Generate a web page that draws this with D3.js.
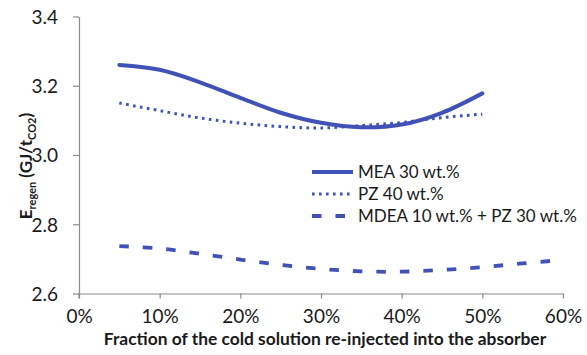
<!DOCTYPE html>
<html>
<head>
<meta charset="utf-8">
<script src="https://cdn.jsdelivr.net/npm/d3@7"></script>
<style>
  html, body { margin: 0; padding: 0; background: #fff; }
  svg text { font-family: Lato, "Open Sans", sans-serif; fill: #1a1a1a; }
</style>
</head>
<body>
<svg id="chart" width="587" height="355"></svg>
<script>
// Fraction of cold solution re-injected (%)
const fractionMEA = [5, 10, 15, 20, 25, 30, 35, 40, 45, 50];
const valuesMEA   = [3.26, 3.246, 3.21, 3.165, 3.122, 3.093, 3.08, 3.088, 3.122, 3.178];

const fractionPZ = [5, 10, 15, 20, 25, 30, 35, 40, 45, 50];
const valuesPZ   = [3.15, 3.128, 3.107, 3.092, 3.082, 3.078, 3.085, 3.094, 3.108, 3.118];

const fractionMDEA = [5, 10, 15, 20, 25, 30, 35, 40, 45, 50, 55, 60];
const valuesMDEA   = [2.737, 2.73, 2.715, 2.698, 2.683, 2.671, 2.664, 2.663, 2.668, 2.676, 2.687, 2.697];

const seriesNames = ["MEA 30 wt.%", "PZ 40 wt.%", "MDEA 10 wt.% + PZ 30 wt.%"];

const xTicks = [0, 10, 20, 30, 40, 50, 60];
const yTicks = [2.6, 2.8, 3.0, 3.2, 3.4];

const color = "#4152b6";
const svg = d3.select("#chart");

const x = d3.scaleLinear().domain([0, 60]).range([79, 563]);
const y = d3.scaleLinear().domain([2.6, 3.4]).range([293.5, 16.5]);

// Axes
const xAxis = d3.axisBottom(x).tickValues(xTicks).tickSize(5).tickSizeOuter(0)
  .tickFormat(d => d + "%");
const yAxis = d3.axisLeft(y).tickValues(yTicks).tickSize(6).tickSizeOuter(0)
  .tickFormat(d3.format(".1f"));

const gx = svg.append("g").attr("transform", `translate(0,${y(2.6)})`).call(xAxis);
const gy = svg.append("g").attr("transform", `translate(${x(0)},0)`).call(yAxis);

[gx, gy].forEach(g => {
  g.select(".domain").attr("stroke", "#8c8c8c").attr("stroke-width", 1.2);
  g.selectAll(".tick line").attr("stroke", "#8c8c8c").attr("stroke-width", 1.2);
  g.selectAll(".tick text").attr("font-size", 19).attr("fill", "#1a1a1a")
    .style("font-family", "Lato, 'Open Sans', sans-serif");
});
gx.selectAll(".tick text").attr("dy", 0).attr("y", 29);
gy.selectAll(".tick text").attr("x", -21).attr("dy", "0.36em");
// extend the vertical axis a little below the horizontal one
gy.append("line").attr("x1", 0).attr("x2", 0).attr("y1", y(2.6)).attr("y2", y(2.6) + 5)
  .attr("stroke", "#8c8c8c").attr("stroke-width", 1.2);

// Axis titles
svg.append("text")
  .attr("x", 325).attr("y", 345)
  .attr("text-anchor", "middle").attr("font-weight", "bold").attr("font-size", 17.4)
  .text("Fraction of the cold solution re-injected into the absorber");

const yTitle = svg.append("text")
  .attr("transform", "translate(32,166) rotate(-90)")
  .attr("text-anchor", "middle").attr("font-weight", "bold").attr("font-size", 17);
yTitle.append("tspan").text("E");
yTitle.append("tspan").attr("font-size", 11).attr("dy", 4).text("regen");
yTitle.append("tspan").attr("dy", -4).text(" (GJ/t");
yTitle.append("tspan").attr("font-size", 11).attr("dy", 4).text("CO2");
yTitle.append("tspan").attr("dy", -4).text(")");

// Series lines
const line = d3.line()
  .x(d => x(d[0])).y(d => y(d[1]))
  .curve(d3.curveCatmullRom.alpha(0.5));

const series = [
  { xs: fractionMEA, ys: valuesMEA, dash: null, width: 4, cap: "round" },
  { xs: fractionPZ, ys: valuesPZ, dash: "2.6,4.4", width: 3, cap: "butt" },
  { xs: fractionMDEA, ys: valuesMDEA, dash: "9.5,14", width: 3.8, cap: "butt" }
];

series.forEach(s => {
  svg.append("path")
    .datum(d3.zip(s.xs, s.ys))
    .attr("fill", "none")
    .attr("stroke", color)
    .attr("stroke-width", s.width)
    .attr("stroke-linecap", s.cap)
    .attr("stroke-dasharray", s.dash)
    .attr("d", line);
});

// Legend
const legendY = [172, 194, 216];
series.forEach((s, i) => {
  svg.append("line")
    .attr("x1", 312).attr("x2", 353)
    .attr("y1", legendY[i]).attr("y2", legendY[i])
    .attr("stroke", color)
    .attr("stroke-width", s.width)
    .attr("stroke-dasharray", s.dash);
  svg.append("text")
    .attr("x", 358).attr("y", legendY[i]).attr("dy", "0.35em")
    .attr("font-size", 17)
    .text(seriesNames[i]);
});
</script>
</body>
</html>
